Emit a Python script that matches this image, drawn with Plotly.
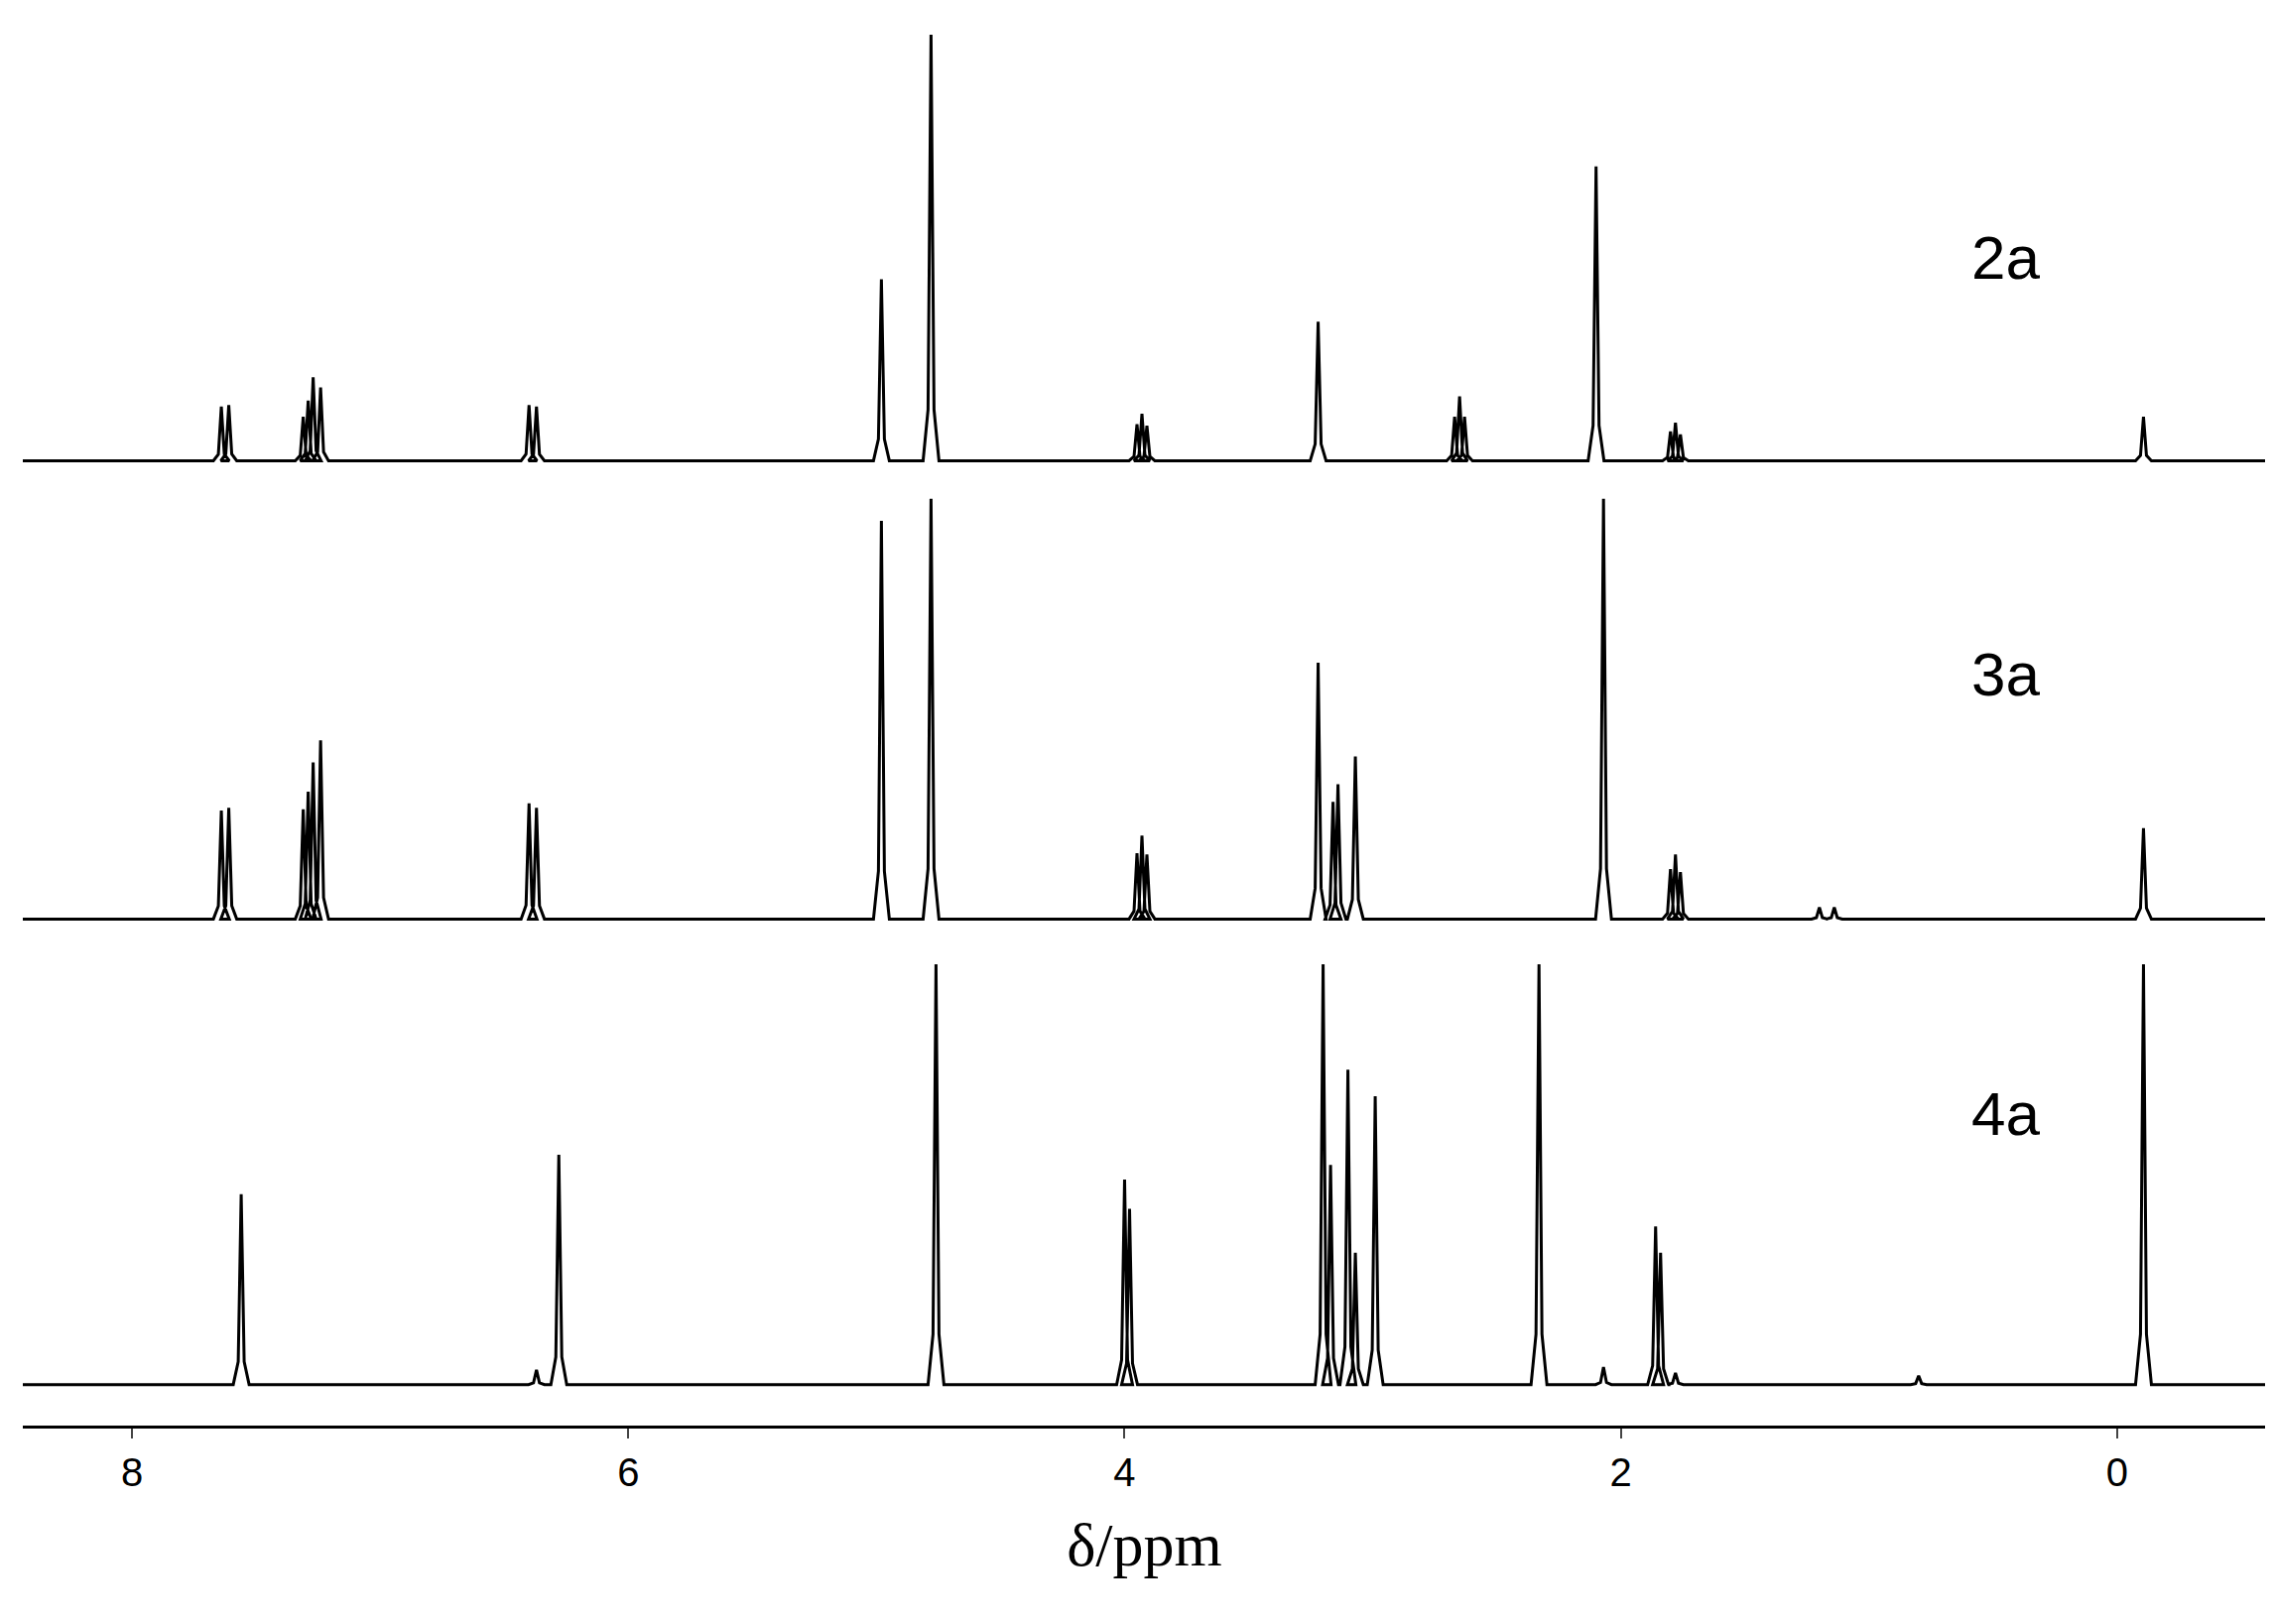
import plotly.graph_objects as go

# peak positions (ppm) and heights, per spectrum
names = ['2a', '3a', '4a']
baselines = [659, 346, 28]

ppm_2a = [7.64, 7.61, 7.31, 7.29, 7.27, 7.24, 6.40, 6.37, 4.98, 4.78, 3.95, 3.93, 3.91,
          3.22, 2.67, 2.65, 2.63, 2.10, 1.80, 1.78, 1.76, -0.106]
h_2a = [37, 38, 30, 41, 57, 50, 38, 37, 124, 291, 25, 32, 24,
        95, 30, 44, 30, 201, 20, 26, 18, 30]

ppm_3a = [7.64, 7.61, 7.31, 7.29, 7.27, 7.24, 6.40, 6.37, 4.98, 4.78, 3.95, 3.93, 3.91,
          3.22, 3.16, 3.14, 3.07, 2.07, 1.80, 1.78, 1.76, 1.20, 1.14, -0.106]
h_3a = [74, 76, 75, 87, 107, 122, 79, 76, 272, 287, 45, 57, 44,
        175, 80, 92, 111, 287, 34, 44, 32, 8, 8, 62]

ppm_4a = [7.56, 6.37, 6.28, 4.76, 4.00, 3.98, 3.20, 3.17, 3.10, 3.07, 2.99, 2.33,
          2.07, 1.86, 1.84, 1.78, 0.80, -0.106]
h_4a = [130, 10, 157, 287, 140, 120, 287, 150, 215, 90, 197, 287,
        12, 108, 90, 8, 6, 287]

label_ppm = [0.45, 0.45, 0.45]
label_y = [798, 513, 213]

fig = go.Figure()
w = 0.008
for name, base, pk, hk in zip(names, baselines, [ppm_2a, ppm_3a, ppm_4a], [h_2a, h_3a, h_4a]):
    xs, ys = [8.5], [base]
    for p, h in sorted(zip(pk, hk), reverse=True):
        xs += [p + 4 * w, p + 1.5 * w, p, p - 1.5 * w, p - 4 * w]
        ys += [base, base + 0.12 * h, base + h, base + 0.12 * h, base]
    xs.append(-0.7)
    ys.append(base)
    fig.add_trace(go.Scatter(x=xs, y=ys, mode='lines', showlegend=False,
                             line=dict(color='black', width=3)))

for name, lx, ly in zip(names, label_ppm, label_y):
    fig.add_annotation(x=lx, y=ly, text=name, showarrow=False,
                       font=dict(family='Liberation Sans', size=62, color='black'))

fig.update_layout(
    width=2291, height=1637, template='simple_white',
    margin=dict(l=15, r=15, t=27, b=208),
    plot_bgcolor='white', paper_bgcolor='white',
)
fig.update_xaxes(range=[8.44, -0.6], tickvals=[8, 6, 4, 2, 0], ticks='outside', ticklen=10,
                 tickwidth=2, linewidth=3, linecolor='black', showline=True,
                 tickfont=dict(family='Liberation Sans', size=40, color='black'),
                 title=dict(text='δ/ppm', font=dict(family='Liberation Serif', size=62, color='black'),
                            standoff=30))
fig.update_yaxes(range=[0, 950], visible=False)

fig.write_html('out.html')
